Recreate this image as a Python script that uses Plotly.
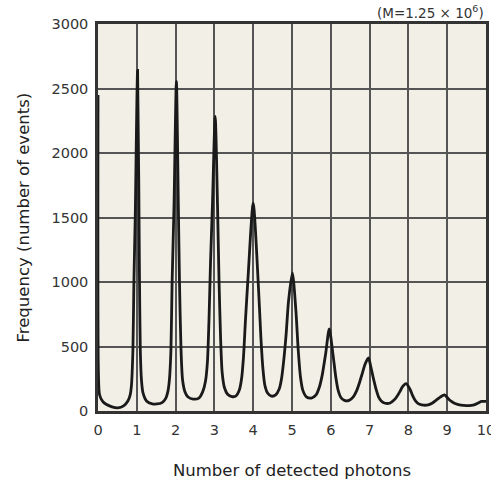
import plotly.graph_objects as go

# Read-off points of the photon-count distribution curve
photons = [0.0, 0.01, 0.04, 0.12, 0.21, 0.36, 0.51, 0.66, 0.77, 0.83, 0.86, 0.90, 0.925, 0.96, 1.02,
           1.07, 1.09, 1.12, 1.16, 1.25, 1.40, 1.52, 1.65, 1.75, 1.80, 1.84, 1.88, 1.91, 1.96, 2.02,
           2.07, 2.10, 2.14, 2.18, 2.24, 2.32, 2.45, 2.60, 2.70, 2.77, 2.82, 2.86, 2.90, 2.95, 3.02,
           3.08, 3.12, 3.16, 3.20, 3.26, 3.34, 3.45, 3.55, 3.64, 3.70, 3.75, 3.80, 3.87, 4.00,
           4.13, 4.20, 4.25, 4.30, 4.37, 4.47, 4.58, 4.67, 4.73, 4.79, 4.85, 4.91, 5.01,
           5.10, 5.16, 5.22, 5.28, 5.37, 5.50, 5.62, 5.71, 5.78, 5.87, 5.96,
           6.06, 6.13, 6.19, 6.26, 6.35, 6.47, 6.58, 6.67, 6.75, 6.82, 6.88, 6.97,
           7.04, 7.10, 7.17, 7.23, 7.30, 7.40, 7.53, 7.63, 7.70, 7.78, 7.84, 7.94,
           8.04, 8.10, 8.16, 8.22, 8.29, 8.40, 8.51, 8.62, 8.72, 8.82, 8.93,
           9.02, 9.10, 9.20, 9.35, 9.50, 9.62, 9.71, 9.80, 9.88, 10.0]
frequency = [2450, 300, 126, 75, 52, 32, 25, 40, 78, 125, 190, 475, 994, 1508, 2640,
             992, 475, 240, 140, 78, 56, 55, 65, 100, 150, 240, 475, 1000, 1600, 2555,
             1600, 1000, 475, 240, 150, 108, 92, 100, 150, 230, 380, 700, 1150, 1600, 2283,
             1600, 1000, 560, 300, 180, 130, 112, 115, 160, 250, 420, 700, 1050, 1612,
             992, 560, 330, 200, 140, 115, 125, 170, 250, 400, 600, 850, 1070,
             780, 475, 260, 160, 110, 100, 125, 190, 280, 450, 636,
             429, 260, 160, 105, 82, 82, 110, 160, 230, 300, 360, 411,
             330, 250, 165, 110, 78, 60, 62, 85, 110, 150, 185, 212,
             170, 125, 90, 66, 52, 45, 48, 62, 85, 108, 125,
             98, 76, 58, 46, 42, 44, 50, 62, 74, 75]

x_ticks = list(range(0, 11))
y_ticks = [0, 500, 1000, 1500, 2000, 2500, 3000]

fig = go.Figure()
fig.add_trace(go.Scatter(x=photons, y=frequency, mode="lines",
                         line=dict(color="#1a1a1a", width=2.8, shape="spline", smoothing=0.7),
                         showlegend=False, hoverinfo="skip", cliponaxis=True))

font = "DejaVu Sans"
axis_common = dict(showgrid=True, gridcolor="#555555", gridwidth=1.5,
                   showline=True, linecolor="#333333", linewidth=2.5, mirror=True,
                   zeroline=False, ticks="outside", ticklen=4, automargin=False,
                   tickcolor="rgba(0,0,0,0)", ticklabeloverflow="allow",
                   tickfont=dict(family=font, size=14.5, color="#333333"))

fig.update_layout(
    width=491, height=486,
    margin=dict(l=98, r=5, t=24, b=75),
    paper_bgcolor="white",
    plot_bgcolor="#f2efe6",
    xaxis=dict(range=[0, 10], tickvals=x_ticks, **axis_common),
    yaxis=dict(range=[0, 3000], tickvals=y_ticks, **axis_common),
    annotations=[
        dict(text="Number of detected photons", xref="paper", yref="paper",
             x=0.5, y=0, xanchor="center", yanchor="middle", yshift=-59,
             showarrow=False, font=dict(family=font, size=16.5, color="#222222")),
        dict(text="Frequency (number of events)", xref="paper", yref="paper",
             x=0, y=0.5, xanchor="center", yanchor="middle", xshift=-75,
             textangle=-90, showarrow=False,
             font=dict(family=font, size=16.5, color="#222222")),
        dict(text="(M=1.25 × 10<sup>6</sup>)", xref="paper", yref="paper",
             x=1, y=1, xanchor="right", yanchor="middle", yshift=12,
             showarrow=False, font=dict(family=font, size=13.5, color="#333333")),
    ],
)

fig.write_html("out.html")
